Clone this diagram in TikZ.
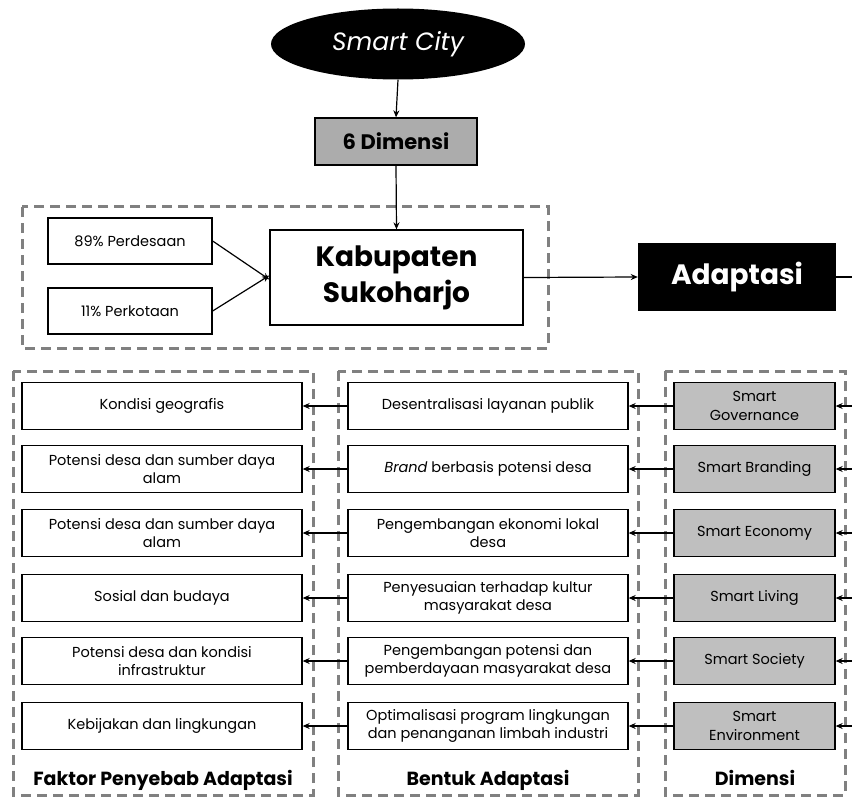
\documentclass[tikz,border=0pt]{standalone}
\usepackage{fontspec}
\setmainfont{Poppins}
\usetikzlibrary{shapes.geometric,arrows.meta}
\tikzset{
  plain/.style={draw=black,line width=1.3pt,fill=white,inner sep=2pt,align=center,font=\fontsize{14.5}{18.5}\selectfont},
  dimbox/.style={plain,fill=gray!50},
  dashbox/.style={draw=gray,line width=3pt,dash pattern=on 10pt off 6pt},
  arr/.style={line width=1.2pt,-{Stealth[length=7pt,width=6pt]}},
  lbl/.style={font=\bfseries\fontsize{19}{22}\selectfont,inner sep=0pt,anchor=base},
}
\begin{document}
\begin{tikzpicture}[x=1pt,y=-1pt]
\useasboundingbox (0,0) rectangle (852,797);
% top
\node[ellipse,fill=black,minimum width=254pt,minimum height=71pt,inner sep=0pt,text=white,font=\itshape\fontsize{25}{28}\selectfont] (sc) at (398,44) {Smart City};
\node[draw=black,line width=1.3pt,fill=gray!65,minimum width=162pt,minimum height=47pt,font=\bfseries\fontsize{21}{24}\selectfont] (dim6) at (396,141.5) {6 Dimensi};
\draw[dashbox] (22,207) rectangle (548,348);
\node[plain,minimum width=164pt,minimum height=46pt] (pd) at (130,241) {89\% Perdesaan};
\node[plain,minimum width=164pt,minimum height=46pt] (pk) at (130,311) {11\% Perkotaan};
\node[draw=black,line width=1.3pt,fill=white,minimum width=253pt,minimum height=95pt,align=center,font=\bfseries\fontsize{28}{36}\selectfont] (kab) at (396.5,277.5) {Kabupaten\\Sukoharjo};
\node[fill=black,minimum width=198pt,minimum height=68pt,text=white,font=\bfseries\fontsize{28}{30}\selectfont] (adp) at (737,277) {Adaptasi};
\coordinate (adpend) at (852,277);
\draw[arr] (sc.south) -- (dim6.north);
\draw[arr] (dim6.south) -- (kab.north);
\draw[arr] (pd.east) -- ([yshift=-2pt]kab.west);
\draw[arr] (pk.east) -- ([yshift=2pt]kab.west);
\draw[arr] (kab.east) -- (adp.west);
\draw[line width=1.2pt] (adp.east) -- (adpend);
% bottom dashed columns
\draw[dashbox] (13,371) rectangle (313,795);
\draw[dashbox] (338,371) rectangle (638,795);
\draw[dashbox] (665,371) rectangle (845,795);
\foreach \i/\y/\a/\b/\c in {
 1/406/{Kondisi geografis}/{Desentralisasi layanan publik}/{Smart\\Governance},
 2/469/{Potensi desa dan sumber daya\\alam}/{\textit{Brand} berbasis potensi desa}/{Smart Branding},
 3/533/{Potensi desa dan sumber daya\\alam}/{Pengembangan ekonomi lokal\\desa}/{Smart Economy},
 4/598/{Sosial dan budaya}/{Penyesuaian terhadap kultur\\masyarakat desa}/{Smart Living},
 5/661/{Potensi desa dan kondisi\\infrastruktur}/{Pengembangan potensi dan\\pemberdayaan masyarakat desa}/{Smart Society},
 6/726/{Kebijakan dan lingkungan}/{Optimalisasi program lingkungan\\dan penanganan limbah industri}/{Smart\\Environment}} {
  \node[plain,minimum width=280pt,minimum height=47pt] (f\i) at (162,\y) {\a};
  \node[plain,minimum width=280pt,minimum height=47pt] (b\i) at (488,\y) {\b};
  \node[dimbox,minimum width=161pt,minimum height=47pt] (d\i) at (754.5,\y) {\c};
  \coordinate (e\i) at (852,\y);
  \draw[arr] (e\i) -- (d\i.east);
  \draw[arr] (d\i.west) -- (b\i.east);
  \draw[arr] (b\i.west) -- (f\i.east);
}
\node[lbl] (l1) at (163,785) {Faktor Penyebab Adaptasi};
\node[lbl] (l2) at (488,785) {Bentuk Adaptasi};
\node[lbl] (l3) at (755,785) {Dimensi};
\end{tikzpicture}
\end{document}
